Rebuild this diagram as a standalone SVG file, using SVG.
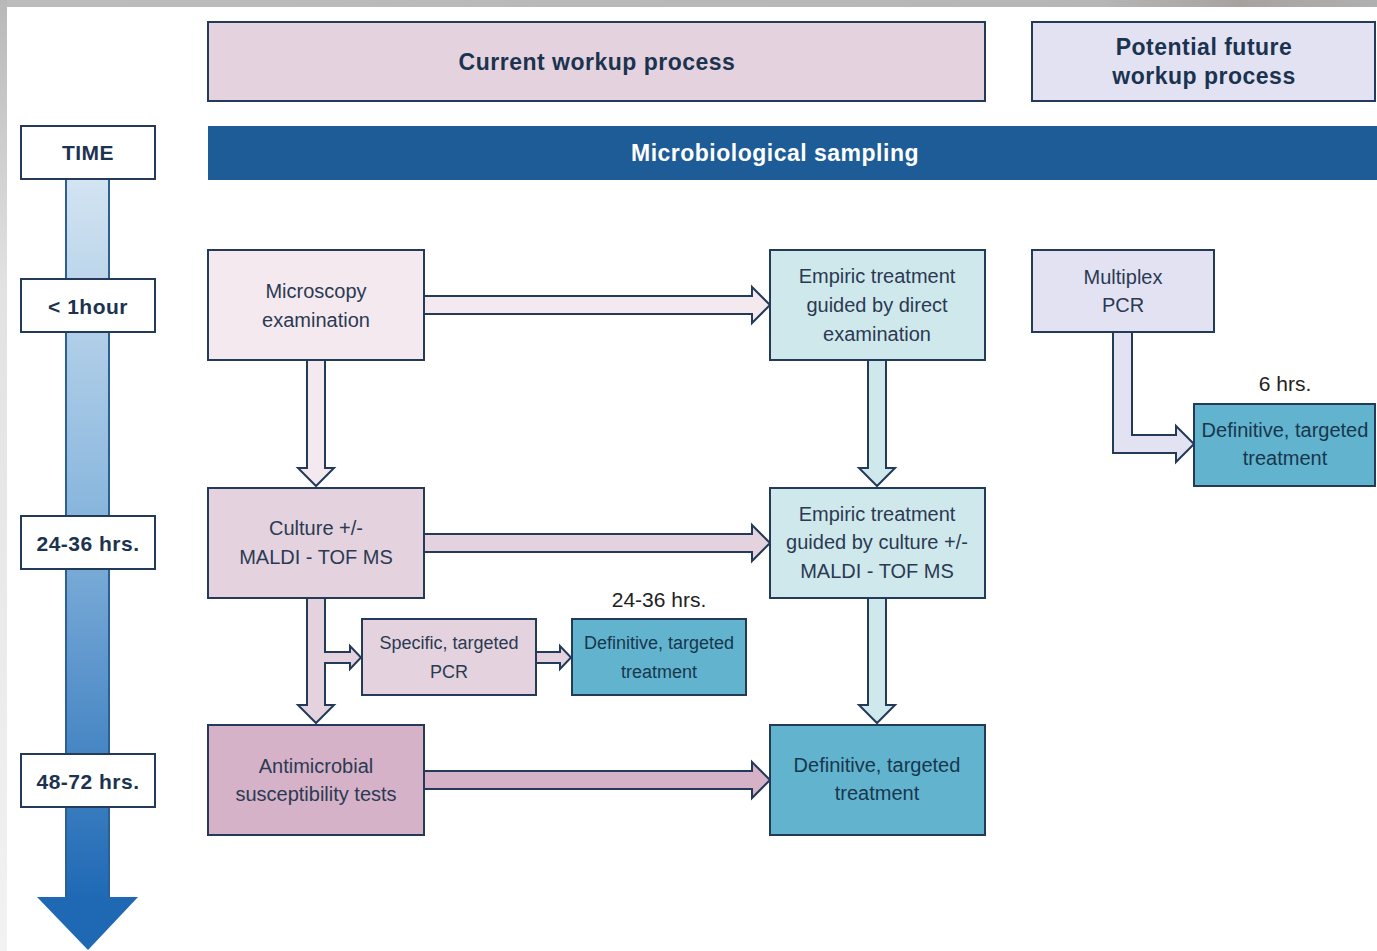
<svg xmlns="http://www.w3.org/2000/svg" width="1377" height="951" viewBox="0 0 1377 951">
<defs>
<linearGradient id="axis" x1="0" y1="0" x2="0" y2="1">
<stop offset="0" stop-color="#d5e5f2"/>
<stop offset="0.45" stop-color="#8cb8de"/>
<stop offset="1" stop-color="#1f69b5"/>
</linearGradient>
<linearGradient id="leftframe" x1="0" y1="0" x2="0" y2="1">
<stop offset="0" stop-color="#b8b8b8"/>
<stop offset="0.3" stop-color="#e2e2e2"/>
<stop offset="1" stop-color="#f2f2f2"/>
</linearGradient>
<linearGradient id="topframe" x1="0" y1="0" x2="1" y2="0">
<stop offset="0" stop-color="#bcbcbc"/>
<stop offset="0.8" stop-color="#b6b6b6"/>
<stop offset="0.9" stop-color="#a8a29f"/>
<stop offset="1" stop-color="#b0b0b0"/>
</linearGradient>
<style>
.box{stroke:#233a58;stroke-width:2}
.lbl{fill:#ffffff;stroke:#233a58;stroke-width:2}
.hdr{font-family:"Liberation Sans",Arial,sans-serif;font-weight:bold;font-size:23px;letter-spacing:0.5px;fill:#1c3350;text-anchor:middle}
.tl{font-family:"Liberation Sans",Arial,sans-serif;font-weight:bold;font-size:21px;letter-spacing:0.5px;fill:#1c3350;text-anchor:middle}
.t{font-family:"Liberation Sans",Arial,sans-serif;font-size:20px;fill:#2b3a52;text-anchor:middle}
.ts{font-family:"Liberation Sans",Arial,sans-serif;font-size:18px;fill:#2b3a52;text-anchor:middle}
.td{fill:#17374f}
.note{font-family:"Liberation Sans",Arial,sans-serif;font-size:21px;fill:#222222;text-anchor:middle}
.arr{stroke:#233a58;stroke-width:2;stroke-linejoin:miter}
.pink0{fill:#f4e9ef}
.pink1{fill:#e4d3de}
.pink2{fill:#d6b2c8}
.cyan0{fill:#cfe8ec}
.cyan1{fill:#62b3cd}
.lav{fill:#e2e2f2}
</style>
</defs>
<rect x="0" y="0" width="1377" height="951" fill="#ffffff"/>
<rect x="0" y="0" width="1377" height="7" fill="url(#topframe)"/>
<rect x="0" y="0" width="7" height="951" fill="url(#leftframe)"/>

<g id="time-axis">
<rect x="66" y="170" width="43" height="728" fill="url(#axis)"/>
<line x1="66" y1="170" x2="66" y2="898" stroke="#2b5f95" stroke-width="2"/>
<line x1="109" y1="170" x2="109" y2="898" stroke="#2b5f95" stroke-width="2"/>
<polygon points="37,897 138,897 88,950" fill="#1f68b3"/>
</g>
<g id="time-label">
<rect class="lbl" x="21" y="126" width="134" height="53"/>
<text class="tl" x="88" y="160">TIME</text>
</g>
<g id="t-1hour">
<rect class="lbl" x="21" y="279" width="134" height="53"/>
<text class="tl" x="88" y="314">&lt; 1hour</text>
</g>
<g id="t-24-36">
<rect class="lbl" x="21" y="516" width="134" height="53"/>
<text class="tl" x="88" y="551">24-36 hrs.</text>
</g>
<g id="t-48-72">
<rect class="lbl" x="21" y="754" width="134" height="53"/>
<text class="tl" x="88" y="789">48-72 hrs.</text>
</g>

<g id="header-current">
<rect class="box pink1" x="208" y="22" width="777" height="79"/>
<text class="hdr" x="597" y="70">Current workup process</text>
</g>
<g id="header-future">
<rect class="box lav" x="1032" y="22" width="343" height="79"/>
<text class="hdr" x="1204" y="55">Potential future</text>
<text class="hdr" x="1204" y="84">workup process</text>
</g>
<g id="sampling">
<rect x="208" y="126" width="1169" height="54" fill="#1d5c96"/>
<text class="hdr" x="775" y="161" style="fill:#ffffff">Microbiological sampling</text>
</g>

<g id="connectors">
<path class="arr pink0" d="M424,296 H752 V287 L770,305 L752,323 V314 H424"/>
<path class="arr pink0" d="M307,360 V468 H298 L316,486 L334,468 H325 V360"/>
<path class="arr cyan0" d="M868,360 V468 H859 L877,486 L895,468 H886 V360"/>
<path class="arr pink1" d="M424,534 H752 V525 L770,543 L752,561 V552 H424"/>
<path class="arr pink1" d="M307,598 V705 H298 L316,723 L334,705 H325 V663 H350 V669 L361,657.5 L350,646 V652 H325 V598"/>
<path class="arr pink1" d="M536,652 H560 V646 L571,657.5 L560,669 V663 H536"/>
<path class="arr cyan0" d="M868,598 V705 H859 L877,723 L895,705 H886 V598"/>
<path class="arr pink2" d="M424,771 H752 V762 L770,780 L752,798 V789 H424"/>
<path class="arr lav" d="M1113,332 V453 H1176 V462 L1194,444 L1176,426 V435 H1132 V332"/>
</g>

<g id="microscopy">
<rect class="box pink0" x="208" y="250" width="216" height="110"/>
<text class="t" x="316" y="298">Microscopy</text>
<text class="t" x="316" y="327">examination</text>
</g>
<g id="empiric-direct">
<rect class="box cyan0" x="770" y="250" width="215" height="110"/>
<text class="t" x="877" y="283">Empiric treatment</text>
<text class="t" x="877" y="312">guided by direct</text>
<text class="t" x="877" y="341">examination</text>
</g>
<g id="multiplex">
<rect class="box lav" x="1032" y="250" width="182" height="82"/>
<text class="t" x="1123" y="284">Multiplex</text>
<text class="t" x="1123" y="312">PCR</text>
</g>
<g id="definitive-future">
<rect class="box cyan1" x="1194" y="404" width="181" height="82"/>
<text class="t td" x="1285" y="437">Definitive, targeted</text>
<text class="t td" x="1285" y="465">treatment</text>
</g>
<text class="note" x="1285" y="391">6 hrs.</text>
<g id="culture">
<rect class="box pink1" x="208" y="488" width="216" height="110"/>
<text class="t" x="316" y="535">Culture +/-</text>
<text class="t" x="316" y="564">MALDI - TOF MS</text>
</g>
<g id="empiric-culture">
<rect class="box cyan0" x="770" y="488" width="215" height="110"/>
<text class="t" x="877" y="521">Empiric treatment</text>
<text class="t" x="877" y="549">guided by culture +/-</text>
<text class="t" x="877" y="578">MALDI - TOF MS</text>
</g>
<g id="specific-pcr">
<rect class="box pink1" x="362" y="619" width="174" height="76"/>
<text class="ts" x="449" y="649">Specific, targeted</text>
<text class="ts" x="449" y="678">PCR</text>
</g>
<g id="definitive-pcr">
<rect class="box cyan1" x="572" y="619" width="174" height="76"/>
<text class="ts td" x="659" y="649">Definitive, targeted</text>
<text class="ts td" x="659" y="678">treatment</text>
</g>
<text class="note" x="659" y="607">24-36 hrs.</text>
<g id="antimicrobial">
<rect class="box pink2" x="208" y="725" width="216" height="110"/>
<text class="t" x="316" y="773">Antimicrobial</text>
<text class="t" x="316" y="801">susceptibility tests</text>
</g>
<g id="definitive-current">
<rect class="box cyan1" x="770" y="725" width="215" height="110"/>
<text class="t td" x="877" y="772">Definitive, targeted</text>
<text class="t td" x="877" y="800">treatment</text>
</g>
</svg>
